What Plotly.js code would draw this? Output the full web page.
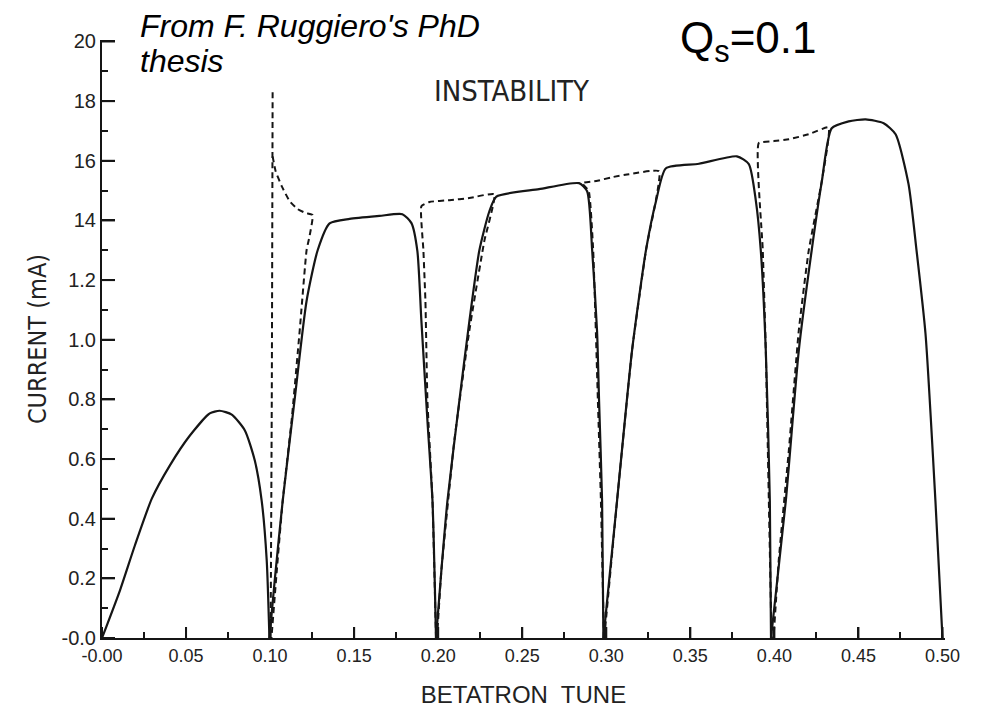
<!DOCTYPE html>
<html>
<head>
<meta charset="utf-8">
<script src="https://cdn.plot.ly/plotly-3.0.1.min.js"></script>
<style>html,body{margin:0;padding:0;background:#fff;}#chart{width:981px;height:715px;}</style>
</head>
<body>
<div id="chart"></div>
<script>
// ---- Data (betatron tune vs current in mA) ----
// Solid curve (threshold), one lobe per array pair
const lobe1X = [0, 0.0107, 0.0196, 0.0297, 0.0404, 0.0523, 0.0641, 0.070, 0.0772, 0.085, 0.0909, 0.095, 0.098, 0.0996];
const lobe1Y = [0, 0.16, 0.311, 0.468, 0.579, 0.679, 0.753, 0.762, 0.749, 0.696, 0.595, 0.46, 0.26, 0];
const lobe2X = [0.0996, 0.1027, 0.1075, 0.1146, 0.1217, 0.1283, 0.1354, 0.1473, 0.165, 0.1787, 0.1841, 0.1876, 0.190, 0.1936, 0.1966, 0.1987];
const lobe2Y = [0, 0.19, 0.46, 0.80, 1.13, 1.30, 1.39, 1.405, 1.415, 1.421, 1.391, 1.298, 1.064, 0.729, 0.46, 0];
const lobe3X = [0.1987, 0.2019, 0.2055, 0.2126, 0.2185, 0.2245, 0.2304, 0.2346, 0.260, 0.2838, 0.2886, 0.2916, 0.2945, 0.2957, 0.2975, 0.2983];
const lobe3Y = [0, 0.227, 0.46, 0.796, 1.06, 1.30, 1.43, 1.48, 1.505, 1.525, 1.498, 1.30, 1.03, 0.796, 0.46, 0];
const lobe4X = [0.2983, 0.3064, 0.3153, 0.3236, 0.3296, 0.3355, 0.3551, 0.3777, 0.3848, 0.389, 0.3919, 0.3949, 0.3973, 0.398];
const lobe4Y = [0, 0.46, 0.963, 1.30, 1.465, 1.575, 1.59, 1.615, 1.589, 1.465, 1.30, 0.963, 0.46, 0];
const lobe5X = [0.398, 0.4068, 0.4145, 0.4222, 0.4282, 0.4341, 0.4442, 0.4543, 0.465, 0.4721, 0.4798, 0.4846, 0.4899, 0.4958, 0.500];
const lobe5Y = [0, 0.46, 0.963, 1.30, 1.53, 1.709, 1.732, 1.739, 1.726, 1.689, 1.522, 1.298, 1.02, 0.46, 0];

// Dashed curves (instability boundaries)
const dashAX = [0.1003, 0.1010, 0.1015];
const dashAY = [0, 0.80, 1.83];
const dashBX = [0.1015, 0.1033, 0.1069, 0.1116, 0.1164, 0.1211, 0.1253, 0.1235, 0.1217, 0.1176, 0.1128, 0.1075, 0.104, 0.1008];
const dashBY = [1.615, 1.565, 1.515, 1.465, 1.438, 1.425, 1.418, 1.348, 1.30, 1.03, 0.729, 0.46, 0.227, 0];
const dashCX = [0.1987, 0.1966, 0.1936, 0.1924, 0.1912, 0.190, 0.1948, 0.2067, 0.2185, 0.2334, 0.2274, 0.2185, 0.2096, 0.2019, 0.1993];
const dashCY = [0, 0.46, 0.796, 1.13, 1.30, 1.448, 1.462, 1.468, 1.475, 1.488, 1.33, 1.03, 0.662, 0.227, 0];
const dashDX = [0.2986, 0.2968, 0.2950, 0.2922, 0.2895, 0.2856, 0.294, 0.3034, 0.3135, 0.3314, 0.3236, 0.3153, 0.3064, 0.2988];
const dashDY = [0, 0.46, 0.796, 1.30, 1.50, 1.525, 1.532, 1.545, 1.555, 1.565, 1.30, 0.963, 0.46, 0];
const dashEX = [0.3983, 0.3967, 0.3949, 0.3931, 0.3907, 0.3997, 0.4086, 0.4204, 0.4323, 0.4282, 0.4204, 0.4145, 0.4086, 0.4026, 0.3995];
const dashEY = [0, 0.46, 0.963, 1.30, 1.659, 1.666, 1.672, 1.689, 1.712, 1.532, 1.298, 1.03, 0.629, 0.261, 0];

// Tick labels (as printed on the figure)
const xTickVals = [0, 0.05, 0.10, 0.15, 0.20, 0.25, 0.30, 0.35, 0.40, 0.45, 0.50];
const xTickText = ["-0.00", "0.05", "0.10", "0.15", "0.20", "0.25", "0.30", "0.35", "0.40", "0.45", "0.50"];
const yTickVals = [0, 0.2, 0.4, 0.6, 0.8, 1.0, 1.2, 1.4, 1.6, 1.8, 2.0];
const yTickText = ["-0.0", "0.2", "0.4", "0.6", "0.8", "1.0", "1.2", "14", "16", "18", "20"];

// ---- Geometry of the plot area ----
const W = 981, H = 715;
const M = {l: 102, r: 36, t: 40, b: 77};
const xRange = [0, 0.5015], yRange = [0, 2.005];
const plotW = W - M.l - M.r, plotH = H - M.t - M.b;
const xTickLenPx = 11, yTickLenPx = 13;

// ---- Build traces ----
const ink = '#151515';
const solidLine = {color: ink, width: 2.2, shape: 'spline', smoothing: 0.6};
const dashLine = {color: ink, width: 2, dash: '6px,4px', shape: 'spline', smoothing: 0.4};
const solids = [[lobe1X, lobe1Y], [lobe2X, lobe2Y], [lobe3X, lobe3Y], [lobe4X, lobe4Y], [lobe5X, lobe5Y]];
const dashes = [[dashAX, dashAY], [dashBX, dashBY], [dashCX, dashCY], [dashDX, dashDY], [dashEX, dashEY]];
const traces = [];
dashes.forEach(d => traces.push({x: d[0], y: d[1], mode: 'lines', line: dashLine, hoverinfo: 'skip', showlegend: false}));
solids.forEach(s => traces.push({x: s[0], y: s[1], mode: 'lines', line: solidLine, hoverinfo: 'skip', showlegend: false}));

// long (major) inward tick marks at the labelled positions, drawn as a line trace
const xLen = yTickLenPx / plotW * (xRange[1] - xRange[0]);
const yLen = xTickLenPx / plotH * (yRange[1] - yRange[0]);
const tkX = [], tkY = [];
xTickVals.forEach(v => { tkX.push(v, v, null); tkY.push(0, yLen, null); });
yTickVals.forEach(v => { tkX.push(0, xLen, null); tkY.push(v, v, null); });
traces.push({x: tkX, y: tkY, mode: 'lines', line: {color: ink, width: 2}, hoverinfo: 'skip', showlegend: false, connectgaps: false});
// empty trace carrying the overlay axes that draw the short (minor) ticks
traces.push({x: [], y: [], xaxis: 'x2', yaxis: 'y2', mode: 'lines', hoverinfo: 'skip', showlegend: false});

const condensed = 'DejaVu Sans Condensed, Liberation Sans Narrow, sans-serif';
const sans = 'Liberation Sans, Arial, sans-serif';

const layout = {
  width: W, height: H,
  margin: M,
  paper_bgcolor: '#fff', plot_bgcolor: '#fff',
  showlegend: false,
  xaxis: {
    range: xRange, showgrid: false, zeroline: false,
    showline: true, linecolor: ink, linewidth: 2,
    tickmode: 'array', tickvals: xTickVals, ticktext: xTickText,
    ticks: 'inside', ticklen: xTickLenPx, tickwidth: 2, tickcolor: ink,
    tickfont: {family: sans, size: 18, color: '#222'},
    title: {text: 'BETATRON\u00a0 TUNE', font: {family: sans, size: 24, color: '#222'}, standoff: 22}
  },
  yaxis: {
    range: yRange, showgrid: false, zeroline: false,
    showline: true, linecolor: ink, linewidth: 2,
    tickmode: 'array', tickvals: yTickVals, ticktext: yTickText,
    ticks: 'inside', ticklen: yTickLenPx, tickwidth: 2, tickcolor: ink,
    tickfont: {family: sans, size: 20, color: '#222'},
    title: {text: 'CURRENT (mA)', font: {family: condensed, size: 25, color: '#222'}, standoff: 8}
  },
  xaxis2: {
    overlaying: 'x', anchor: 'y2', side: 'bottom', range: xRange,
    showgrid: false, zeroline: false, showline: false, showticklabels: false,
    tickmode: 'linear', tick0: 0, dtick: 0.025, ticks: 'inside', ticklen: 6, tickwidth: 2, tickcolor: ink
  },
  yaxis2: {
    overlaying: 'y', anchor: 'x2', side: 'left', range: yRange,
    showgrid: false, zeroline: false, showline: false, showticklabels: false,
    tickmode: 'linear', tick0: 0, dtick: 0.1, ticks: 'inside', ticklen: 6, tickwidth: 2, tickcolor: ink
  },
  annotations: [
    {xref: 'paper', yref: 'paper', x: 0.043, y: 1.024, xanchor: 'left', yanchor: 'middle', showarrow: false,
     text: "<i>From F. Ruggiero's PhD</i>", font: {family: sans, size: 32, color: '#000'}},
    {xref: 'paper', yref: 'paper', x: 0.043, y: 0.965, xanchor: 'left', yanchor: 'middle', showarrow: false,
     text: '<i>thesis</i>', font: {family: sans, size: 32, color: '#000'}},
    {xref: 'paper', yref: 'paper', x: 0.683, y: 0.998, xanchor: 'left', yanchor: 'middle', showarrow: false,
     text: 'Q<sub>s</sub>=0.1', font: {family: sans, size: 44, color: '#000'}},
    {xref: 'paper', yref: 'paper', x: 0.486, y: 0.914, xanchor: 'center', yanchor: 'middle', showarrow: false,
     text: 'INSTABILITY', font: {family: condensed, size: 29, color: '#222'}}
  ]
};

Plotly.newPlot('chart', traces, layout, {staticPlot: true, displayModeBar: false});
</script>
</body>
</html>
